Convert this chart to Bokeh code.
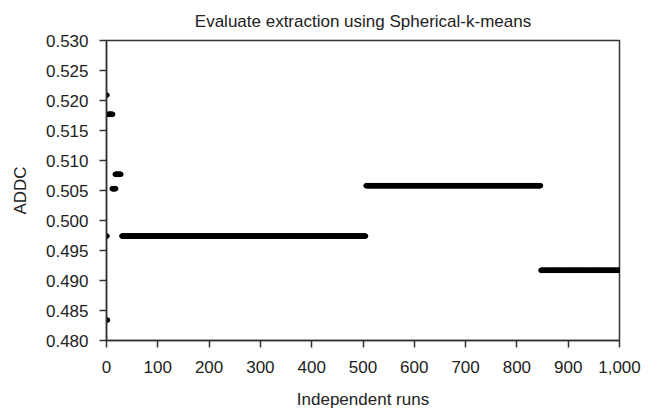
import numpy as np
from bokeh.plotting import figure
from bokeh.models import ColumnDataSource, FixedTicker, NumeralTickFormatter, Range1d
from bokeh.embed import file_html
from bokeh.resources import INLINE

# Segments of identical ADDC values over consecutive independent runs
seg_start = [1, 2, 3, 1, 11, 17, 30, 506, 847]
seg_end = [1, 2, 12, 1, 18, 28, 505, 846, 1000]
seg_value = [0.5209, 0.4834, 0.5177, 0.4974, 0.5053, 0.5077, 0.4974, 0.5058, 0.4917]

x_ticks = [0, 100, 200, 300, 400, 500, 600, 700, 800, 900, 1000]
y_ticks = [0.480, 0.485, 0.490, 0.495, 0.500, 0.505, 0.510, 0.515, 0.520, 0.525, 0.530]

runs = []
addc = []
for s, e, v in zip(seg_start, seg_end, seg_value):
    for r in range(s, e + 1):
        runs.append(r)
        addc.append(v)

src = ColumnDataSource(data=dict(run=runs, addc=addc))

FONT = "Liberation Sans"
TXT = "#222222"
AX = "#333333"

p = figure(width=656, height=411, output_backend="svg", toolbar_location=None,
           x_range=Range1d(0, 1000), y_range=Range1d(0.480, 0.530),
           title="Evaluate extraction using Spherical-k-means",
           min_border_left=106, min_border_right=37, min_border_top=40, min_border_bottom=70)

p.scatter("run", "addc", source=src, marker="circle", size=4.5, color="black")

p.title.align = "center"
p.title.vertical_align = "top"
p.title.text_font = FONT
p.title.text_font_size = "17px"
p.title.text_font_style = "normal"
p.title.text_color = TXT
p.title.text_line_height = 1.0
p.title.standoff = 15

p.grid.visible = False
p.outline_line_color = AX
p.outline_line_width = 1.5
p.background_fill_color = "white"
p.border_fill_color = "white"

p.xaxis.ticker = FixedTicker(ticks=x_ticks)
p.yaxis.ticker = FixedTicker(ticks=y_ticks)
p.xaxis.formatter = NumeralTickFormatter(format="0,0")
p.yaxis.formatter = NumeralTickFormatter(format="0.000")
p.xaxis.axis_label = "Independent runs"
p.yaxis.axis_label = "ADDC"

for ax in (p.xaxis, p.yaxis):
    ax.axis_line_color = AX
    ax.axis_line_width = 1.5
    ax.major_tick_line_color = AX
    ax.major_tick_line_width = 1.5
    ax.major_tick_out = 7
    ax.major_tick_in = 0
    ax.minor_tick_line_color = None
    ax.major_label_text_font = FONT
    ax.major_label_text_font_size = "17px"
    ax.major_label_text_color = TXT
    ax.axis_label_text_font = FONT
    ax.axis_label_text_font_size = "17px"
    ax.axis_label_text_font_style = "normal"
    ax.axis_label_text_color = TXT

p.xaxis.major_label_standoff = 13
p.xaxis.axis_label_standoff = 14
p.yaxis.major_label_standoff = 11
p.yaxis.axis_label_standoff = 13

open("out.html", "w").write(file_html(p, INLINE))
